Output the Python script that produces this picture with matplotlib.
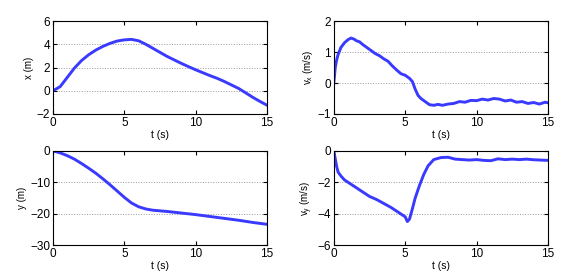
import matplotlib
matplotlib.use('Agg')
import matplotlib.pyplot as plt

# x position (m)
t_x = [0, 0.5, 1, 1.5, 2, 2.5, 3, 3.5, 4, 4.5, 5, 5.5, 6, 6.5, 7, 7.5, 8, 8.5, 9,
       9.5, 10, 10.5, 11, 11.5, 12, 12.5, 13, 13.5, 14, 14.5, 15]
x_m = [0, 0.35, 1.15, 1.95, 2.6, 3.1, 3.5, 3.82, 4.08, 4.28, 4.38, 4.42, 4.3, 4.0,
       3.65, 3.3, 2.95, 2.65, 2.35, 2.07, 1.8, 1.55, 1.3, 1.07, 0.8, 0.5, 0.2,
       -0.18, -0.57, -0.92, -1.25]

# x velocity (m/s)
t_vx = [0, 0.1, 0.2, 0.3, 0.5, 0.75, 1, 1.2, 1.4, 1.6, 1.8, 2, 2.3, 2.6, 2.9, 3.2,
        3.5, 3.8, 4.1, 4.4, 4.7, 5, 5.3, 5.5, 5.7, 5.9, 6.1, 6.4, 6.7, 7, 7.3, 7.6,
        8, 8.4, 8.8, 9.2, 9.6, 10, 10.4, 10.8, 11.2, 11.6, 12, 12.4, 12.8, 13.2,
        13.6, 14, 14.4, 14.8, 15]
vx = [0, 0.5, 0.75, 0.92, 1.15, 1.3, 1.4, 1.45, 1.42, 1.36, 1.33, 1.25, 1.15, 1.05,
      0.95, 0.88, 0.78, 0.7, 0.55, 0.42, 0.3, 0.25, 0.15, 0.05, -0.2, -0.4, -0.5,
      -0.6, -0.7, -0.72, -0.69, -0.72, -0.68, -0.66, -0.6, -0.62, -0.56, -0.57,
      -0.52, -0.55, -0.5, -0.52, -0.58, -0.55, -0.62, -0.6, -0.66, -0.63, -0.68,
      -0.62, -0.64]

# y position (m)
t_y = [0, 0.5, 1, 1.5, 2, 2.5, 3, 3.5, 4, 4.5, 5, 5.5, 6, 6.5, 7, 8, 9, 10, 11, 12,
       13, 14, 15]
y_m = [0, -0.6, -1.5, -2.6, -4.0, -5.5, -7.1, -8.9, -10.8, -12.8, -14.8, -16.6,
       -17.8, -18.5, -18.9, -19.3, -19.8, -20.3, -20.9, -21.5, -22.1, -22.8, -23.4]

# y velocity (m/s)
t_vy = [0, 0.1, 0.2, 0.3, 0.5, 0.75, 1, 1.5, 2, 2.5, 3, 3.5, 4, 4.5, 5, 5.15, 5.3,
        5.5, 5.7, 6, 6.3, 6.6, 7, 7.5, 8, 8.5, 9, 9.5, 10, 10.5, 11, 11.5, 12, 12.5,
        13, 13.5, 14, 14.5, 15]
vy = [0, -0.5, -1.0, -1.35, -1.6, -1.85, -2.0, -2.3, -2.6, -2.9, -3.1, -3.35, -3.6,
      -3.9, -4.2, -4.5, -4.35, -3.7, -3.0, -2.2, -1.5, -0.95, -0.55, -0.42, -0.4,
      -0.52, -0.55, -0.58, -0.55, -0.6, -0.62, -0.5, -0.55, -0.52, -0.55, -0.52,
      -0.56, -0.58, -0.6]

panels = [
    (t_x, x_m, 'x (m)', (-2, 6), [-2, 0, 2, 4, 6]),
    (t_vx, vx, r'v$_x$ (m/s)', (-1, 2), [-1, 0, 1, 2]),
    (t_y, y_m, 'y (m)', (-30, 0), [-30, -20, -10, 0]),
    (t_vy, vy, r'v$_y$ (m/s)', (-6, 0), [-6, -4, -2, 0]),
]

plt.rcParams['font.family'] = ['Liberation Sans', 'DejaVu Sans']
plt.rcParams['mathtext.fontset'] = 'custom'
plt.rcParams['mathtext.rm'] = 'Liberation Sans'
plt.rcParams['mathtext.it'] = 'Liberation Sans'

fig = plt.figure(figsize=(5.62, 2.75), dpi=100)
positions = [
    [0.0943, 0.5855, 0.381, 0.338],
    [0.594, 0.5855, 0.381, 0.338],
    [0.0943, 0.109, 0.381, 0.342],
    [0.594, 0.109, 0.381, 0.342],
]

for pos, (t, v, lab, ylim, yt) in zip(positions, panels):
    ax = fig.add_axes(pos)
    ax.plot(t, v, color='#3a3aff', lw=2.1)
    ax.set_xlim(0, 15)
    ax.set_ylim(*ylim)
    ax.set_xticks([0, 5, 10, 15])
    ax.set_yticks(yt)
    ax.yaxis.grid(True, linestyle=':', color='#999999', lw=0.7)
    ax.tick_params(direction='in', top=True, right=True, labelsize=8.5, length=3, pad=2)
    ax.set_xlabel('t (s)', fontsize=7.5, labelpad=1)
    ax.set_ylabel(lab, fontsize=7, labelpad=2)
    for s in ax.spines.values():
        s.set_linewidth(0.8)

plt.savefig('out.png', dpi=100)
